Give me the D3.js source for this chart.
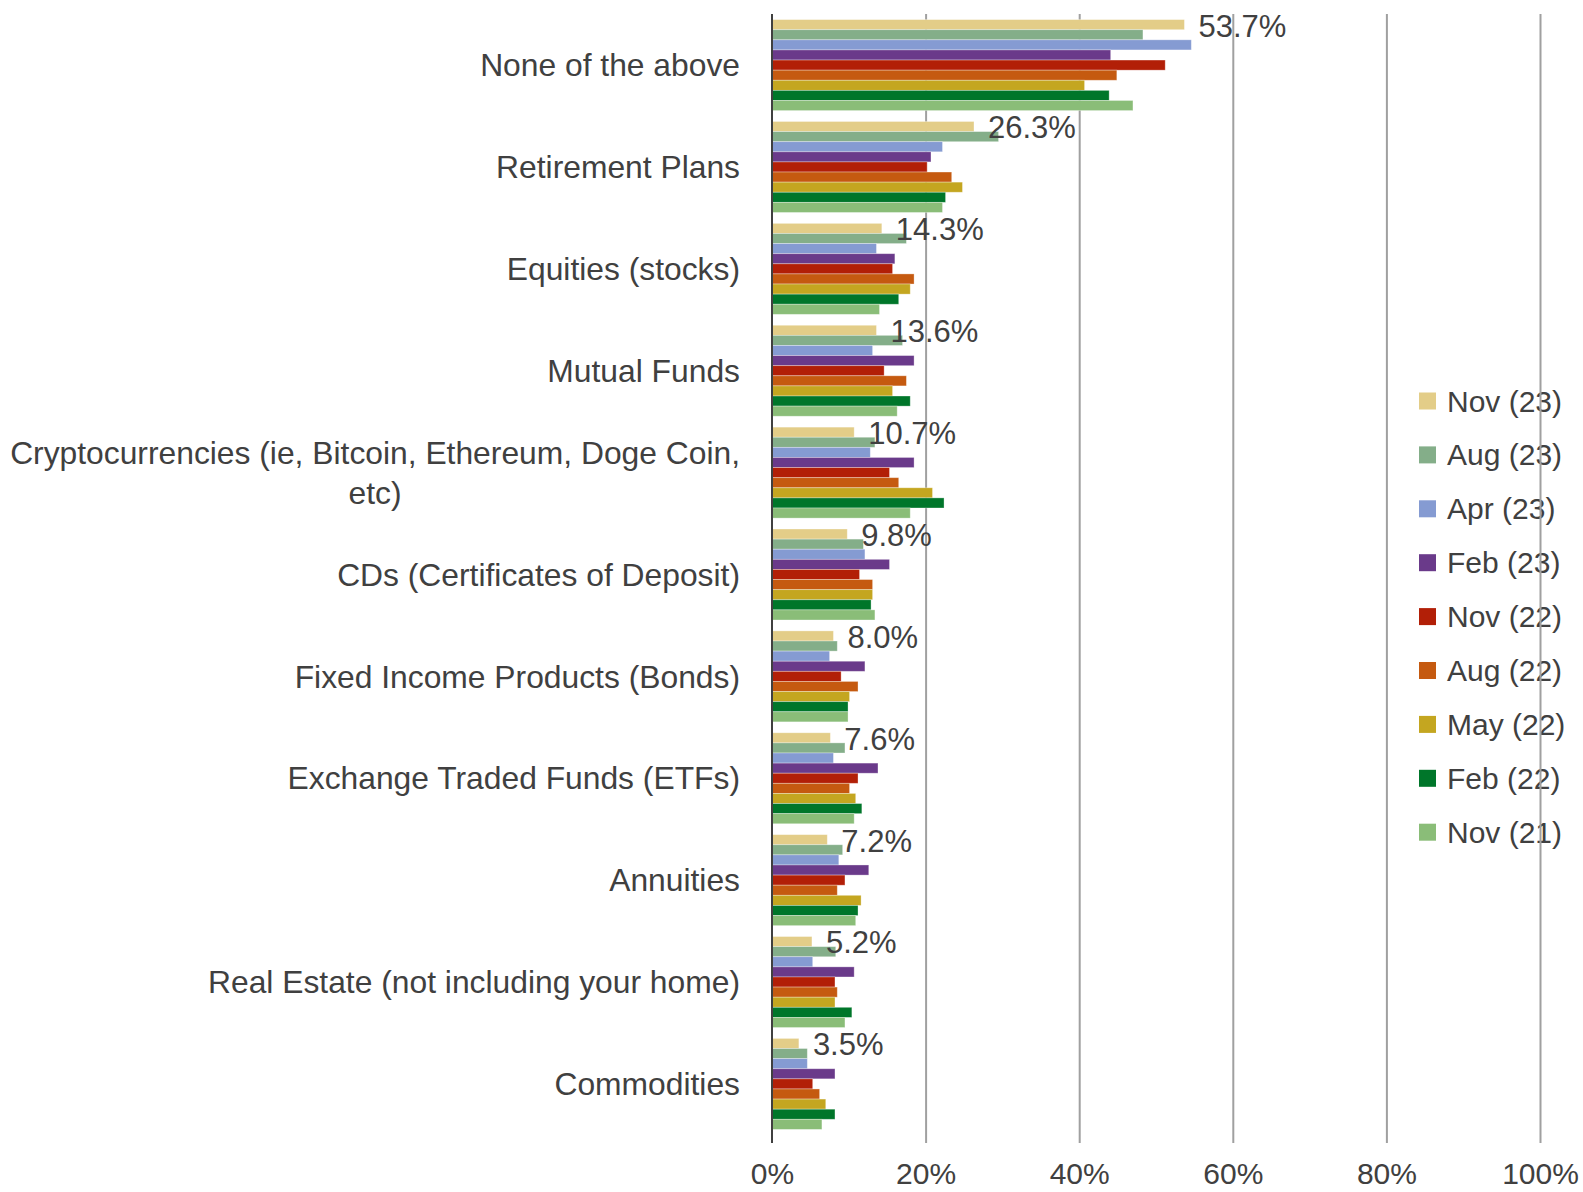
<!DOCTYPE html>
<html>
<head>
<meta charset="utf-8">
<script src="https://cdn.jsdelivr.net/npm/d3@7"></script>
<style>
  html,body{margin:0;padding:0;background:#fff;}
  svg text{font-family:"Liberation Sans",Arial,sans-serif;fill:#404040;}
</style>
</head>
<body>
<div id="chart"></div>
<script>
// Grouped horizontal bars: investment types by survey wave
const categories = [
  'None of the above',
  'Retirement Plans',
  'Equities (stocks)',
  'Mutual Funds',
  'Cryptocurrencies (ie, Bitcoin, Ethereum, Doge Coin, etc)',
  'CDs (Certificates of Deposit)',
  'Fixed Income Products (Bonds)',
  'Exchange Traded Funds (ETFs)',
  'Annuities',
  'Real Estate (not including your home)',
  'Commodities'
];
const seriesNames = ['Nov (23)','Aug (23)','Apr (23)','Feb (23)','Nov (22)','Aug (22)','May (22)','Feb (22)','Nov (21)'];
const seriesColors = ['#e3cd88','#84ae89','#859bd2','#6a3a8a','#b21f07','#c55a10','#c4a620','#00762a','#8abd78'];

// values in percent, one array per wave
const nov23 = [53.7,26.3,14.3,13.6,10.7,9.8,8.0,7.6,7.2,5.2,3.5];
const aug23 = [48.3,29.5,17.5,17.0,13.4,11.9,8.5,9.5,9.2,8.3,4.6];
const apr23 = [54.6,22.2,13.6,13.1,12.8,12.1,7.5,8.0,8.7,5.3,4.6];
const feb23 = [44.1,20.7,16.0,18.5,18.5,15.3,12.1,13.8,12.6,10.7,8.2];
const nov22 = [51.2,20.2,15.7,14.6,15.3,11.4,9.0,11.2,9.5,8.2,5.3];
const aug22 = [44.9,23.4,18.5,17.5,16.5,13.1,11.2,10.1,8.5,8.5,6.2];
const may22 = [40.7,24.8,18.0,15.7,20.9,13.1,10.1,10.9,11.6,8.2,7.0];
const feb22 = [43.9,22.6,16.5,18.0,22.4,12.9,9.9,11.7,11.2,10.4,8.2];
const nov21 = [47.0,22.2,14.0,16.3,18.0,13.4,9.9,10.7,10.9,9.5,6.5];
const seriesValues = [nov23,aug23,apr23,feb23,nov22,aug22,may22,feb22,nov21];
const xTicks = [0,20,40,60,80,100];

const W = 1583, H = 1192;
const margin = {top:14,right:43,bottom:49,left:772};
const svg = d3.select('#chart').append('svg').attr('width',W).attr('height',H);

const x = d3.scaleLinear().domain([0,100]).range([margin.left, W-margin.right]);
const y = d3.scaleBand().domain(categories).range([margin.top, 1135])
  .paddingInner(0.107).paddingOuter(0.055);
const ys = d3.scaleBand().domain(seriesNames).range([0, y.bandwidth()]).padding(0);

// legend (drawn under gridlines)
const legend = svg.append('g');
seriesNames.forEach((name,i)=>{
  const cy = 401 + i*53.9;
  legend.append('rect').attr('x',1419).attr('y',cy-8.5).attr('width',17).attr('height',17).attr('fill',seriesColors[i]);
  legend.append('text').attr('x',1447).attr('y',cy).attr('dy','0.35em').attr('font-size',30).text(name);
});

// gridlines
const grid = svg.append('g').attr('transform',`translate(0,${H-margin.bottom})`)
  .call(d3.axisBottom(x).tickValues(xTicks.slice(1)).tickSize(-(H-margin.bottom-margin.top)).tickFormat(''));
grid.select('.domain').remove();
grid.selectAll('line').attr('stroke','#a0a0a0').attr('stroke-width',2);

// bars
const groups = svg.append('g').selectAll('g').data(categories).enter().append('g')
  .attr('transform',d=>`translate(0,${y(d)})`);
groups.selectAll('rect').data((c,ci)=>seriesNames.map((s,si)=>({s,si,v:seriesValues[si][ci]})))
  .enter().append('rect')
  .attr('x',x(0))
  .attr('y',d=>ys(d.s))
  .attr('width',d=>x(d.v)-x(0))
  .attr('height',ys.bandwidth())
  .attr('fill',d=>seriesColors[d.si])
  .attr('stroke','#fff').attr('stroke-opacity',0.4).attr('stroke-width',0.8);

// data labels for latest wave
svg.append('g').selectAll('text').data(categories).enter().append('text')
  .attr('x',(c,i)=>x(nov23[i])+14)
  .attr('y',c=>y(c)+ys(seriesNames[0])+ys.bandwidth()/2+1)
  .attr('dy','0.35em')
  .attr('font-size',31)
  .text((c,i)=>nov23[i].toFixed(1)+'%');

// y axis line
svg.append('line').attr('x1',x(0)).attr('x2',x(0)).attr('y1',margin.top).attr('y2',H-margin.bottom)
  .attr('stroke','#404040').attr('stroke-width',2);

// x tick labels
const xa = svg.append('g').attr('transform',`translate(0,${H-margin.bottom})`)
  .call(d3.axisBottom(x).tickValues(xTicks).tickSize(0).tickPadding(20).tickFormat(d=>d+'%'));
xa.select('.domain').remove();
xa.selectAll('text').attr('font-size',30).attr('fill','#404040')
  .style('font-family','"Liberation Sans",Arial,sans-serif');

// category labels, wrapped where too long
const labelX = 740, maxW = 740;
const cat = svg.append('g');
categories.forEach(c=>{
  const cy = y(c)+y.bandwidth()/2;
  const t = cat.append('text').attr('x',labelX).attr('y',cy).attr('dy','0.35em')
    .attr('text-anchor','end').attr('font-size',31.8).text(c);
  if (t.node().getComputedTextLength() > maxW){
    const words = c.split(' ');
    const last = words.pop();
    t.text(words.join(' ')).attr('y',cy-20);
    const w1 = t.node().getComputedTextLength();
    cat.append('text').attr('x',labelX-w1/2).attr('y',cy+20).attr('dy','0.35em')
      .attr('text-anchor','middle').attr('font-size',31.8).text(last);
  }
});
</script>
</body>
</html>
